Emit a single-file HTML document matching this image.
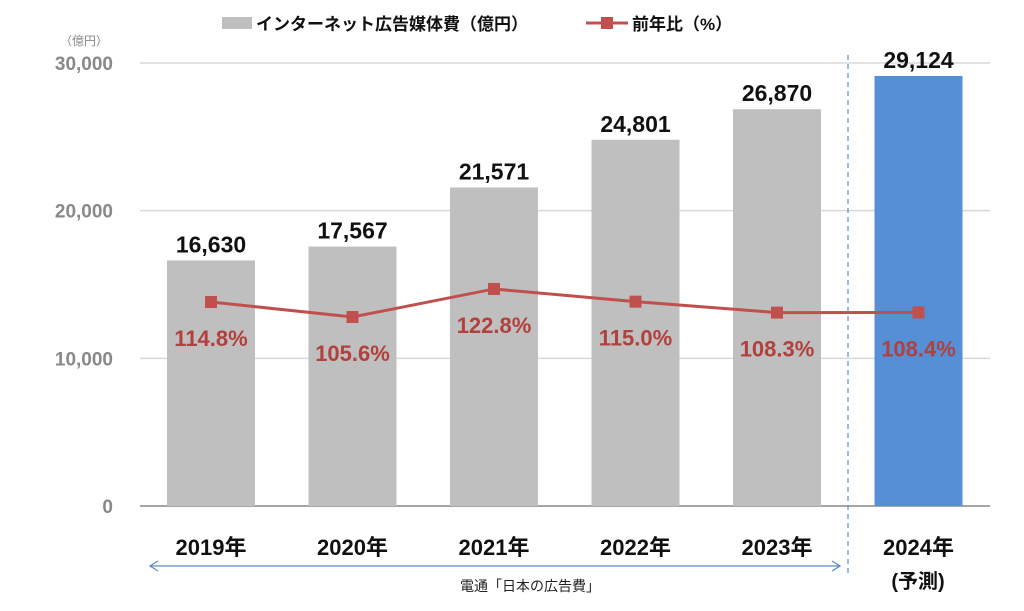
<!DOCTYPE html>
<html><head><meta charset="utf-8"><style>
body{margin:0;background:#fff;}
svg{display:block;font-family:"Liberation Sans","Noto Sans CJK JP",sans-serif;}
</style></head><body>
<svg id="c" width="1024" height="611"></svg>
<script>
const categories=["2019年","2020年","2021年","2022年","2023年","2024年"];
const spend=[16630,17567,21571,24801,26870,29124];
const spendLabels=["16,630","17,567","21,571","24,801","26,870","29,124"];
const ratio=[114.8,105.6,122.8,115.0,108.3,108.4];
const yTicks=[0,10000,20000,30000];
const yTickLabels=["0","10,000","20,000","30,000"];
const NS="http://www.w3.org/2000/svg";
const svg=document.getElementById('c');
function el(t,a,txt){const e=document.createElementNS(NS,t);for(const k in a)e.setAttribute(k,a[k]);if(txt!=null)e.textContent=txt;svg.appendChild(e);return e;}
const y=v=>506-v/30000*443;
const x=i=>211+i*141.5;
const y2=v=>302-(v-114.8)*1.63;
yTicks.forEach((t,i)=>{
 const g=el('line',{x1:140,x2:990,y1:y(t),y2:y(t),stroke:i==0?'#a6a6a6':'#d9d9d9','stroke-width':i==0?2:1.5});
 
 const l=el('text',{x:113,y:y(t)+7,'text-anchor':'end','font-size':19,'font-weight':'bold',fill:'#898989'},yTickLabels[i]);
 
});
const u=el('text',{x:108,y:45,'text-anchor':'end','font-size':12,fill:'#898989'},'（億円）');

spend.forEach((v,i)=>{
 const b=el('rect',{x:x(i)-44,y:y(v),width:88,height:506-y(v),fill:i==5?'#5590d6':'#bfbfbf'});
 
 const t=el('text',{x:x(i),y:y(v)-8,'text-anchor':'middle','font-size':23,'font-weight':'bold',fill:'#111'},spendLabels[i]);
 
 const c=el('text',{x:x(i),y:555,'text-anchor':'middle','font-size':22,'font-weight':'bold',fill:'#111'},categories[i]);
 
});
const p=el('polyline',{points:ratio.map((v,i)=>x(i)+','+y2(v)).join(' '),fill:'none',stroke:'#c0504d','stroke-width':3});

ratio.forEach((v,i)=>{
 const m=el('rect',{x:x(i)-6,y:y2(v)-6,width:12,height:12,fill:'#c0504d'});
 
 const t=el('text',{x:x(i),y:y2(v)+44,'text-anchor':'middle','font-size':22,'font-weight':'bold',fill:'#b2403c'},v.toFixed(1)+'%');
 
});
const f=el('text',{x:918,y:588,'text-anchor':'middle','font-size':20,'font-weight':'bold',fill:'#111'},'(予測)');

const d=el('line',{x1:848,x2:848,y1:55,y2:575,stroke:'#5b8fc9','stroke-width':1.2,'stroke-dasharray':'5,4'});

const a=el('path',{d:'M150 566 H840 M158 561 L150 566 L158 571 M832 561 L840 566 L832 571',fill:'none',stroke:'#5b8fc9','stroke-width':1.3});

const s=el('text',{x:530,y:591,'text-anchor':'middle','font-size':14,fill:'#222'},'電通「日本の広告費」');

const lb=el('rect',{x:222,y:17,width:30,height:12,fill:'#bfbfbf'});

const lt=el('text',{x:256,y:30,'font-size':17,'font-weight':'bold',fill:'#111'},'インターネット広告媒体費（億円）');

const ll=el('line',{x1:586,x2:628,y1:23,y2:23,stroke:'#c0504d','stroke-width':3});

const lm=el('rect',{x:601,y:17,width:12,height:12,fill:'#c0504d'});

const lt2=el('text',{x:632,y:30,'font-size':17,'font-weight':'bold',fill:'#111'},'前年比（%）');

</script>
</body></html>
